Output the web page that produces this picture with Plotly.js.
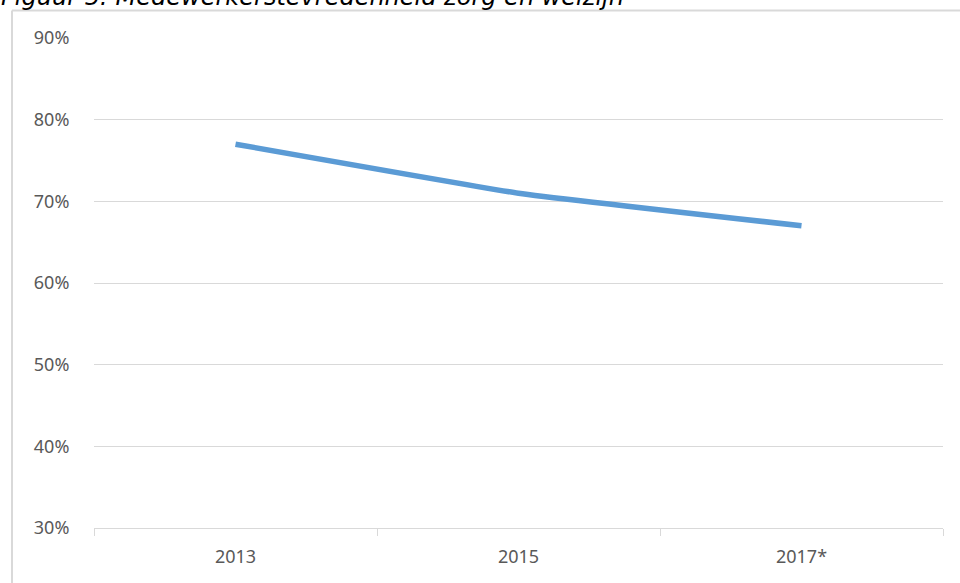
<!DOCTYPE html>
<html>
<head>
<meta charset="utf-8">
<script src="https://cdn.plot.ly/plotly-3.0.1.min.js"></script>
<style>html,body{margin:0;padding:0;background:#fff;overflow:hidden}#chart{width:960px;height:583px}</style>
</head>
<body>
<div id="chart"></div>
<script>
const years = ["2013", "2015", "2017*"];
const satisfaction = [0.77, 0.71, 0.67];
const yTicks = [0.3, 0.4, 0.5, 0.6, 0.7, 0.8, 0.9];
const yTickLabels = ["30%", "40%", "50%", "60%", "70%", "80%", "90%"];
const titleText = "Figuur 5: Medewerkerstevredenheid zorg en welzijn";

const W = 960, H = 583;
const m = {l: 94, r: 17, t: 38, b: 55};
const pw = W - m.l - m.r, ph = H - m.t - m.b;
const px = x => (x - m.l) / pw;
const py = y => (H - m.b - y) / ph;

const trace = {
  x: years, y: satisfaction, type: 'scatter', mode: 'lines',
  line: {color: '#5B9BD5', width: 5.5, shape: 'spline', smoothing: 0.3},
  hoverinfo: 'skip'
};

const layout = {
  width: W, height: H,
  margin: m,
  paper_bgcolor: '#ffffff', plot_bgcolor: '#ffffff',
  showlegend: false,
  font: {family: '"Noto Sans", "Open Sans", sans-serif', size: 18, color: '#595959'},
  xaxis: {
    type: 'category', range: [-0.5, 2.5],
    showgrid: false, zeroline: false,
    showline: true, linecolor: '#d9d9d9', linewidth: 1,
    ticks: 'outside', tickson: 'boundaries', ticklen: 7, tickcolor: '#d9d9d9', tickwidth: 1,
    ticklabelstandoff: 12,
    tickfont: {size: 18, color: '#595959'}
  },
  yaxis: {
    range: [0.3, 0.9], tickvals: yTicks, ticktext: yTickLabels,
    showgrid: true, gridcolor: '#d9d9d9', gridwidth: 1,
    zeroline: false, showline: false,
    ticks: 'outside', ticklen: 20, tickcolor: 'rgba(0,0,0,0)',
    tickfont: {size: 18, color: '#595959'}
  },
  shapes: [
    {type: 'line', xref: 'paper', yref: 'paper', x0: px(12), x1: px(980), y0: py(10.5), y1: py(10.5), line: {color: '#d9d9d9', width: 2}},
    {type: 'line', xref: 'paper', yref: 'paper', x0: px(12), x1: px(12), y0: py(10.5), y1: py(600), line: {color: '#d9d9d9', width: 2}}
  ],
  annotations: [
    {text: titleText, xref: 'paper', yref: 'paper', x: px(-1), y: py(13), xanchor: 'left', yanchor: 'bottom',
     showarrow: false, font: {family: '"DejaVu Sans", Verdana, sans-serif', size: 24, color: '#000000', style: 'italic'}}
  ]
};

Plotly.newPlot('chart', [trace], layout, {displayModeBar: false, staticPlot: true});
</script>
</body>
</html>
